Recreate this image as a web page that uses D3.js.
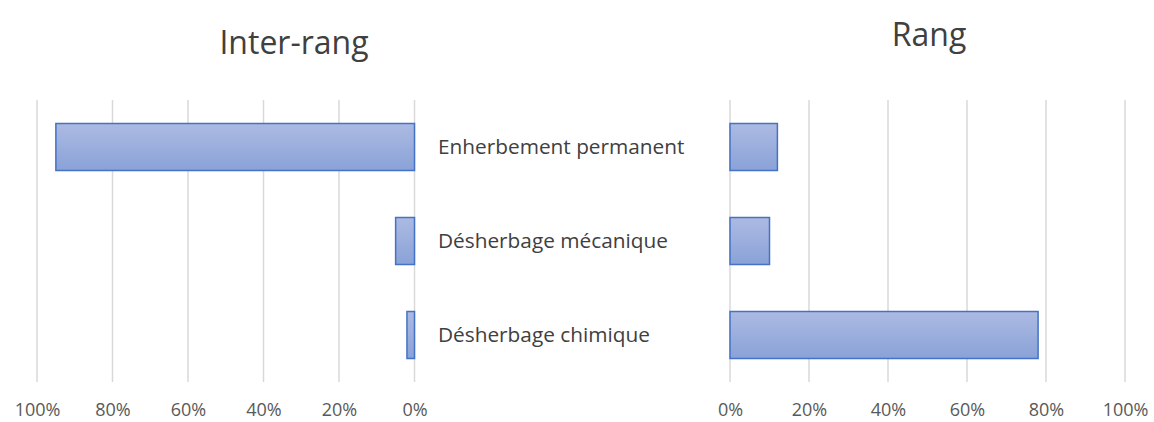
<!DOCTYPE html>
<html>
<head>
<meta charset="utf-8">
<script src="https://cdn.jsdelivr.net/npm/d3@7/dist/d3.min.js"></script>
<style>
  body { margin: 0; background: #fff; }
  svg { font-family: "Open Sans", "Noto Sans", sans-serif; }
</style>
</head>
<body>
<svg id="vis-svg"></svg>
<script>
/** * * * * * * DATA * * * * */
const categories = ['Enherbement permanent', 'Désherbage mécanique', 'Désherbage chimique'];
const interRang = [0.95, 0.05, 0.02];
const rang = [0.12, 0.10, 0.78];
const ticks = [0, 0.2, 0.4, 0.6, 0.8, 1];

/** * * * * * * CONSTANTS * * * * */
const width = 1154;
const height = 422;
const plotTop = 100;
const plotBottom = 382;
const fontFamily = '"Open Sans", "Noto Sans", sans-serif';

const svg = d3.select('#vis-svg')
  .attr('width', width)
  .attr('height', height);

// bar gradient
const grad = svg.append('defs').append('linearGradient')
  .attr('id', 'barGrad')
  .attr('x1', 0).attr('y1', 0).attr('x2', 0).attr('y2', 1);
grad.append('stop').attr('offset', '0%').attr('stop-color', '#acbae2');
grad.append('stop').attr('offset', '100%').attr('stop-color', '#8aa2d8');

const yScale = d3.scaleBand()
  .domain(categories)
  .range([plotTop, plotBottom])
  .paddingInner(0.5)
  .paddingOuter(0.25);

/**
 * Draws one half of the butterfly chart
 */
function drawPanel(values, range, title, titleX, titleY) {
  const xScale = d3.scaleLinear().domain([0, 1]).range(range);
  const g = svg.append('g');

  // gridlines
  g.selectAll('.grid')
    .data(ticks)
    .enter()
    .append('line')
    .attr('x1', d => xScale(d)).attr('x2', d => xScale(d))
    .attr('y1', plotTop).attr('y2', plotBottom)
    .attr('stroke', '#d9d9d9')
    .attr('stroke-width', 1.5);

  // tick labels
  const axis = g.append('g')
    .attr('transform', `translate(0,${plotBottom})`)
    .call(d3.axisBottom(xScale).tickValues(ticks).tickFormat(d3.format('.0%')).tickSize(0).tickPadding(21));
  axis.select('.domain').remove();
  axis.selectAll('text')
    .style('font-size', '18px')
    .style('font-family', fontFamily)
    .attr('fill', '#595959');

  // bars
  g.selectAll('.bar')
    .data(values)
    .enter()
    .append('rect')
    .attr('x', d => Math.min(xScale(0), xScale(d)))
    .attr('y', (d, i) => yScale(categories[i]))
    .attr('width', d => Math.abs(xScale(d) - xScale(0)))
    .attr('height', yScale.bandwidth())
    .attr('fill', 'url(#barGrad)')
    .attr('stroke', '#4472c4')
    .attr('stroke-width', 1.5);

  // title
  g.append('text')
    .attr('x', titleX)
    .attr('y', titleY)
    .attr('text-anchor', 'middle')
    .style('font-size', '32px')
    .attr('fill', '#404040')
    .text(title);
}

drawPanel(interRang, [414.5, 37], 'Inter-rang', 294, 54);
drawPanel(rang, [730, 1125], 'Rang', 929, 46);

// category labels in the middle
svg.selectAll('.cat')
  .data(categories)
  .enter()
  .append('text')
  .attr('x', 438)
  .attr('y', d => yScale(d) + yScale.bandwidth() / 2)
  .attr('dy', '0.35em')
  .style('font-size', '20.8px')
  .attr('fill', '#404040')
  .text(d => d);
</script>
</body>
</html>
